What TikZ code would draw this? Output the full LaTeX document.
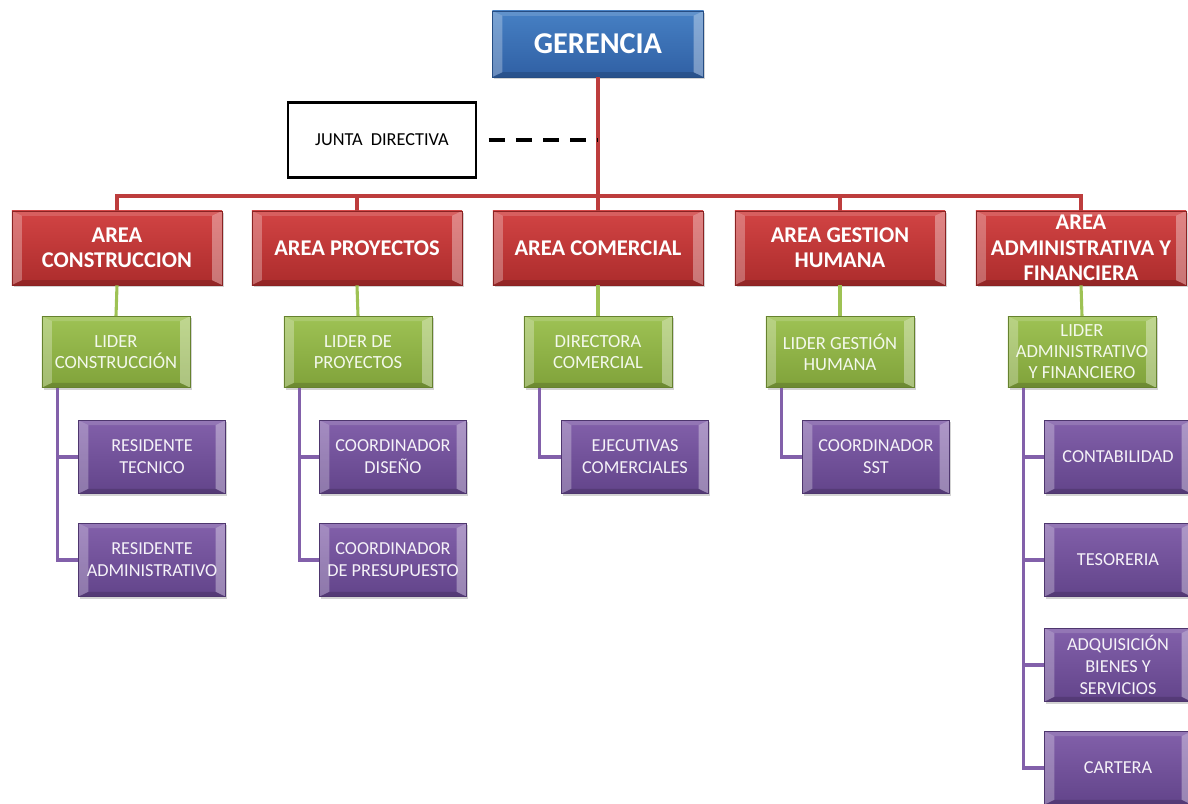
\documentclass[tikz,border=0pt]{standalone}
\usepackage{fontspec}
\setmainfont{Carlito}
\usetikzlibrary{shadows}

\definecolor{gerblue}{RGB}{70,128,196}
\definecolor{gerbluedk}{RGB}{48,96,164}
\definecolor{areared}{RGB}{210,68,68}
\definecolor{arearedk}{RGB}{172,44,44}
\definecolor{lidgreen}{RGB}{158,194,84}
\definecolor{lidgreendk}{RGB}{128,162,58}
\definecolor{subpurple}{RGB}{130,96,170}
\definecolor{subpurpledk}{RGB}{98,68,138}

\tikzset{
  bevel/.style={path picture={
      \fill[white,opacity=.28] (path picture bounding box.north west)
        -- ([shift={(0.25cm,-0.12cm)}]path picture bounding box.north west)
        -- ([shift={(0.25cm,0.12cm)}]path picture bounding box.south west)
        -- (path picture bounding box.south west) -- cycle;
      \fill[white,opacity=.35] (path picture bounding box.north east)
        -- ([shift={(-0.25cm,-0.12cm)}]path picture bounding box.north east)
        -- ([shift={(-0.25cm,0.12cm)}]path picture bounding box.south east)
        -- (path picture bounding box.south east) -- cycle;
      \fill[white,opacity=.15] (path picture bounding box.north west)
        -- ([shift={(0.25cm,-0.12cm)}]path picture bounding box.north west)
        -- ([shift={(-0.25cm,-0.12cm)}]path picture bounding box.north east)
        -- (path picture bounding box.north east) -- cycle;
      \fill[black,opacity=.15] (path picture bounding box.south west)
        -- ([shift={(0.25cm,0.12cm)}]path picture bounding box.south west)
        -- ([shift={(-0.25cm,0.12cm)}]path picture bounding box.south east)
        -- (path picture bounding box.south east) -- cycle;
    }},
  box/.style={rectangle, align=center, inner sep=0pt, text=white, bevel,
    drop shadow={opacity=.35, shadow xshift=.04cm, shadow yshift=-.05cm}},
  gerbox/.style={box, minimum width=5.275cm, minimum height=1.65cm,
    top color=gerblue, bottom color=gerbluedk, draw=gerbluedk!80!black,
    font=\fontsize{21.5}{26}\selectfont\bfseries},
  areabox/.style={box, minimum width=5.25cm, minimum height=1.85cm,
    top color=areared, bottom color=arearedk, draw=arearedk!80!black,
    font=\fontsize{16}{18}\selectfont\bfseries},
  liderbox/.style={box, minimum width=3.7cm, minimum height=1.78cm,
    top color=lidgreen, bottom color=lidgreendk, draw=lidgreendk!80!black,
    text=white!88!lidgreen, font=\fontsize{13.2}{15}\selectfont},
  subbox/.style={box, minimum width=3.68cm, minimum height=1.83cm,
    top color=subpurple, bottom color=subpurpledk, draw=subpurpledk!80!black,
    text=white!92!subpurple, font=\fontsize{13}{15.5}\selectfont},
  redline/.style={draw=areared!90!black, line width=2.2pt},
  greenline/.style={draw=lidgreen, line width=2.2pt},
  purpleline/.style={draw=subpurple, line width=2.2pt}
}

\begin{document}
\begin{tikzpicture}[x=0.025cm,y=-0.025cm]
  \useasboundingbox (0,0) rectangle (1188,803);

  \node[gerbox] (ger) at (598,44) {GERENCIA};
  \node[draw, line width=2pt, minimum width=4.7cm, minimum height=1.88cm,
        font=\fontsize{13}{15}\selectfont] (junta) at (382,140) {JUNTA\ \ DIRECTIVA};
  \coordinate (bus) at (598,196);

  \node[areabox] (a1) at (117,248) {AREA\\CONSTRUCCION};
  \node[areabox] (a2) at (357,248) {AREA PROYECTOS};
  \node[areabox] (a3) at (598,248) {AREA COMERCIAL};
  \node[areabox] (a4) at (840,248) {AREA GESTION\\HUMANA};
  \node[areabox] (a5) at (1081,248) {AREA\\ADMINISTRATIVA Y\\FINANCIERA};

  \node[liderbox] (l1) at (116,352) {LIDER\\CONSTRUCCIÓN};
  \node[liderbox] (l2) at (358,352) {LIDER DE\\PROYECTOS};
  \node[liderbox] (l3) at (598,352) {DIRECTORA\\COMERCIAL};
  \node[liderbox] (l4) at (840,352) {LIDER GESTIÓN\\HUMANA};
  \node[liderbox] (l5) at (1082,352) {LIDER\\ADMINISTRATIVO\\Y FINANCIERO};

  \node[subbox] (s11) at (152,457) {RESIDENTE\\TECNICO};
  \node[subbox] (s12) at (152,560) {RESIDENTE\\ADMINISTRATIVO};
  \node[subbox] (s21) at (393,457) {COORDINADOR\\DISEÑO};
  \node[subbox] (s22) at (393,560) {COORDINADOR\\DE PRESUPUESTO};
  \node[subbox] (s31) at (635,457) {EJECUTIVAS\\COMERCIALES};
  \node[subbox] (s41) at (876,457) {COORDINADOR\\SST};
  \node[subbox] (s51) at (1118,457) {CONTABILIDAD};
  \node[subbox] (s52) at (1118,560) {TESORERIA};
  \node[subbox] (s53) at (1118,665) {ADQUISICIÓN\\BIENES Y\\SERVICIOS};
  \node[subbox] (s54) at (1118,768) {CARTERA};

  \draw[redline] (ger.south) -- (bus);
  \foreach \a in {a1,a2,a3,a4,a5}
    \draw[redline] (bus) -| (\a.north);
  \draw[dashed, line width=2.6pt, dash pattern=on 0.4cm off 0.28cm]
    ([xshift=0.28cm]junta.east) -- (junta -| bus);

  \foreach \a/\l in {a1/l1,a2/l2,a3/l3,a4/l4,a5/l5}
    \draw[greenline] (\a.south) -- (\l.north);

  \foreach \l in {l1,l2,l3,l4,l5}
    \path ([xshift=0.4cm]\l.south west) coordinate (t\l);
  \foreach \l/\s in {l1/s11,l1/s12,l2/s21,l2/s22,l3/s31,l4/s41,l5/s51,l5/s52,l5/s53,l5/s54}
    \draw[purpleline] (t\l) |- (\s.west);
\end{tikzpicture}
\end{document}
